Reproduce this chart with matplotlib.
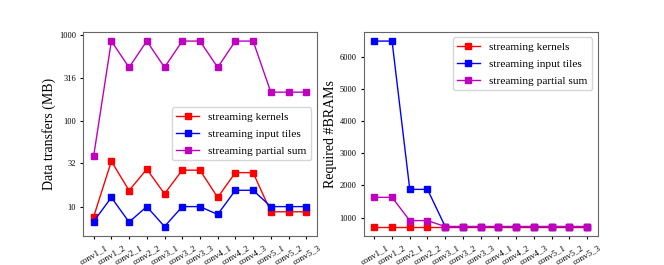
import numpy as np
import matplotlib
matplotlib.use("Agg")
import matplotlib.pyplot as plt

plt.rcParams['font.family'] = ['Liberation Serif', 'DejaVu Serif']

layers = ['conv1_1', 'conv1_2', 'conv2_1', 'conv2_2', 'conv3_1', 'conv3_2', 'conv3_3',
          'conv4_1', 'conv4_2', 'conv4_3', 'conv5_1', 'conv5_2', 'conv5_3']

# Data transfers (MB)
kernels_mb = [7.6, 33.8, 15.4, 27.3, 14.1, 26.6, 26.6, 12.8, 24.9, 24.9, 8.7, 8.7, 8.7]
tiles_mb = [6.7, 12.8, 6.6, 10.0, 5.85, 10.0, 10.0, 8.1, 15.5, 15.5, 10.0, 10.0, 10.0]
psum_mb = [38.7, 851, 420, 851, 420, 851, 851, 420, 851, 851, 216, 216, 216]

# Required BRAMs
kernels_bram = [721, 721, 721, 721, 721, 721, 721, 721, 721, 721, 721, 721, 721]
tiles_bram = [6490, 6490, 1878, 1878, 721, 721, 721, 721, 721, 721, 721, 721, 721]
psum_bram = [1630, 1630, 907, 907, 721, 721, 721, 721, 721, 721, 721, 721, 721]

labels = ['streaming kernels', 'streaming input tiles', 'streaming partial sum']
colors = ['r', 'b', 'm']

fig, (ax1, ax2) = plt.subplots(1, 2, figsize=(6.64, 2.65), dpi=100)

x = np.arange(len(layers))
for ys, c, lab in zip([kernels_mb, tiles_mb, psum_mb], colors, labels):
    ax1.plot(x, ys, '-s', color=c, label=lab, markersize=3.8, linewidth=1)
ax1.set_yscale('log')
ax1.set_yticks([10, 32, 100, 316, 1000])
ax1.set_yticklabels(['10', '32', '100', '316', '1000'])
ax1.minorticks_off()
ax1.set_ylabel('Data transfers (MB)', fontsize=10, labelpad=2)
ax1.legend(loc='center right', fontsize=8.2, labelspacing=0.6)

for ys, c, lab in zip([kernels_bram, tiles_bram, psum_bram], colors, labels):
    ax2.plot(x, ys, '-s', color=c, label=lab, markersize=3.8, linewidth=1)
ax2.set_yticks([1000, 2000, 3000, 4000, 5000, 6000])
ax2.set_ylabel('Required #BRAMs', fontsize=10, labelpad=2)
ax2.legend(loc='upper right', fontsize=8.2, labelspacing=0.6)

for ax in (ax1, ax2):
    ax.set_xticks(x)
    ax.set_xticklabels(layers, rotation=30, fontsize=6.5)
    ax.tick_params(axis='y', labelsize=6, length=2.5, pad=2.5)
    ax.tick_params(axis='x', length=2.5)
    for s in ax.spines.values():
        s.set_edgecolor('#666666')

plt.savefig('out.png')
